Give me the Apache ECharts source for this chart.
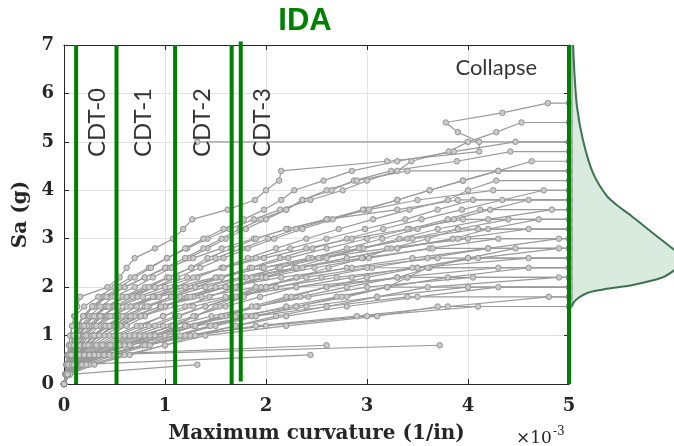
<!DOCTYPE html>
<html>
<head>
<meta charset="utf-8">
<script src="https://cdn.jsdelivr.net/npm/echarts@6/dist/echarts.min.js"></script>
<style>
  html, body { margin: 0; padding: 0; background: #ffffff; }
  #chart { width: 674px; height: 446px; }
</style>
</head>
<body>
<div id="chart"></div>
<script>
// Intensity levels of the incremental dynamic analysis (g)
const saLevels = [0, 0.2, 0.4, 0.6, 0.8, 1.0, 1.2, 1.4, 1.6, 1.8, 2.0, 2.2, 2.4, 2.6, 2.8,
                  3.0, 3.2, 3.4, 3.6, 3.8, 4.0, 4.2, 4.4, 4.6, 4.8, 5.0, 5.2, 5.4, 5.6, 5.8];

// Maximum curvature (x1e-3 1/in) reached by each record at each intensity level
const rec01 = [0, 0.01, 0.02, 0.035, 0.05, 0.065, 0.08, 0.1, 0.13, 0.16, 0.43, 0.55, 0.62, 0.7, 0.9, 1.08, 1.18, 1.27, 1.62, 1.89, 2.0, 2.13, 2.15, 3.2, 4.11, 4.11, 3.9, 3.78, 4.34, 4.79];
const rec02 = [0, 0.012, 0.024, 0.036, 0.048, 0.06, 0.08, 0.11, 0.2, 0.34, 0.5, 0.66, 0.84, 1.02, 1.22, 1.42, 1.64, 1.88, 2.14, 2.44, 2.76, 3.0, 3.3, 3.44, 3.81, 4.0, 4.28, 4.53];
const rec03 = [0, 0.015, 0.03, 0.048, 0.068, 0.09, 0.13, 0.19, 0.28, 0.4, 0.55, 0.7, 0.86, 1.02, 1.2, 1.38, 1.58, 1.78, 1.98, 2.15, 2.28, 2.57, 2.85, 3.3, 3.86, 4.47];
const rec04 = [0, 0.02, 0.04, 0.062, 0.088, 0.12, 0.17, 0.25, 0.36, 0.5, 0.7, 0.88, 1.06, 1.24, 1.42, 1.6, 1.8, 2.0, 2.2, 2.36, 2.65, 2.87, 3.24, 3.89, 4.42];
const rec05 = [0, 0.025, 0.055, 0.09, 0.14, 0.2, 0.28, 0.38, 0.5, 0.68, 0.9, 1.12, 1.35, 1.58, 1.82, 2.08, 2.36, 2.66, 2.98, 3.3, 3.62, 3.95, 4.3, 4.63];
const rec06 = [0, 0.02, 0.045, 0.075, 0.11, 0.15, 0.21, 0.3, 0.42, 0.58, 0.8, 1.02, 1.26, 1.5, 1.76, 2.02, 2.3, 2.62, 2.96, 3.3, 3.62, 3.95, 4.3];
const rec07 = [0, 0.03, 0.07, 0.12, 0.2, 0.3, 0.42, 0.56, 0.72, 0.9, 1.1, 1.32, 1.56, 1.82, 2.1, 2.4, 2.72, 3.06, 3.42, 3.8, 4.0, 4.28];
const rec08 = [0, 0.018, 0.036, 0.055, 0.076, 0.1, 0.14, 0.2, 0.3, 0.43, 0.6, 0.8, 1.02, 1.28, 1.56, 1.88, 2.22, 2.6, 3.02, 3.5, 4.25];
const rec09 = [0, 0.035, 0.08, 0.14, 0.23, 0.35, 0.48, 0.64, 0.84, 1.06, 1.3, 1.56, 1.84, 2.14, 2.46, 2.8, 3.16, 3.54, 3.94, 4.34, 4.75];
const rec10 = [0, 0.024, 0.05, 0.085, 0.13, 0.18, 0.26, 0.37, 0.52, 0.73, 1.0, 1.28, 1.58, 1.9, 2.24, 2.6, 2.98, 3.38, 3.7, 4.05];
const rec11 = [0, 0.04, 0.09, 0.17, 0.29, 0.45, 0.62, 0.8, 1.0, 1.22, 1.5, 1.8, 2.12, 2.45, 2.8, 3.15, 3.5, 3.86, 4.22, 4.6];
const rec12 = [0, 0.03, 0.065, 0.11, 0.17, 0.25, 0.35, 0.48, 0.66, 0.9, 1.2, 1.52, 1.86, 2.22, 2.6, 3.0, 3.42, 3.8, 4.12];
const rec13 = [0, 0.04, 0.1, 0.2, 0.35, 0.55, 0.76, 0.98, 1.2, 1.44, 1.7, 1.98, 2.28, 2.6, 2.95, 3.32, 3.7, 4.2, 4.83];
const rec14 = [0, 0.02, 0.042, 0.068, 0.094, 0.12, 0.18, 0.28, 0.42, 0.62, 0.9, 1.22, 1.58, 1.98, 2.4, 2.85, 3.4, 3.95];
const rec15 = [0, 0.035, 0.075, 0.13, 0.2, 0.3, 0.43, 0.6, 0.8, 1.06, 1.4, 1.76, 2.14, 2.54, 2.96, 3.4, 3.9, 4.4];
const rec16 = [0, 0.045, 0.11, 0.23, 0.42, 0.65, 0.9, 1.14, 1.4, 1.68, 1.9, 1.86, 2.3, 2.8, 3.3, 3.85, 4.2, 4.7];
const rec17 = [0, 0.028, 0.06, 0.1, 0.15, 0.2, 0.3, 0.44, 0.62, 0.88, 1.2, 1.56, 1.96, 2.42, 2.92, 3.45, 4.1];
const rec18 = [0, 0.04, 0.09, 0.16, 0.26, 0.4, 0.56, 0.76, 1.0, 1.28, 1.6, 1.96, 2.36, 2.8, 3.3, 3.9, 4.6];
const rec19 = [0, 0.045, 0.12, 0.26, 0.5, 0.8, 1.06, 1.3, 1.54, 1.78, 2.0, 2.3, 2.62, 2.96, 3.24, 3.6, 3.9];
const rec20 = [0, 0.025, 0.052, 0.085, 0.12, 0.15, 0.23, 0.36, 0.54, 0.78, 1.1, 1.5, 1.98, 2.52, 3.2, 4.0];
const rec21 = [0, 0.035, 0.08, 0.14, 0.23, 0.35, 0.5, 0.7, 0.95, 1.25, 1.6, 2.0, 2.48, 3.02, 3.62, 4.3];
const rec22 = [0, 0.045, 0.11, 0.22, 0.38, 0.6, 0.84, 1.1, 1.4, 1.72, 2.1, 2.55, 3.05, 3.6, 4.2, 4.9];
const rec23 = [0, 0.03, 0.065, 0.11, 0.16, 0.22, 0.32, 0.46, 0.66, 0.94, 1.3, 1.76, 2.3, 2.95, 3.65];
const rec24 = [0, 0.045, 0.12, 0.3, 0.6, 0.9, 1.1, 1.3, 1.5, 1.7, 1.95, 2.3, 2.8, 3.45, 4.2];
const rec25 = [0, 0.045, 0.11, 0.24, 0.44, 0.7, 0.98, 1.28, 1.6, 1.94, 2.3, 2.85, 3.45, 4.1, 4.9];
const rec26 = [0, 0.05, 0.13, 0.3, 0.6, 1.0, 1.3, 1.6, 1.92, 2.25, 2.6, 3.0, 3.5, 4.0, 4.47];
const rec27 = [0, 0.035, 0.075, 0.13, 0.2, 0.28, 0.41, 0.58, 0.82, 1.15, 1.6, 2.15, 2.85, 3.7];
const rec28 = [0, 0.04, 0.1, 0.19, 0.32, 0.5, 0.72, 0.98, 1.28, 1.66, 2.1, 2.7, 3.5, 4.6];
const rec29 = [0, 0.05, 0.12, 0.28, 0.55, 0.9, 1.22, 1.56, 1.92, 2.34, 2.8, 3.3, 3.62, 4.0];
const rec30 = [0, 0.035, 0.08, 0.14, 0.21, 0.3, 0.45, 0.66, 0.96, 1.36, 1.9, 2.4, 3.0];
const rec31 = [0, 0.05, 0.14, 0.34, 0.66, 1.0, 1.28, 1.56, 1.86, 2.2, 2.6, 3.3, 4.3];
const rec32 = [0, 0.05, 0.14, 0.32, 0.65, 1.1, 1.5, 1.9, 2.3, 2.75, 3.2, 3.4, 3.6];
const rec33 = [0, 0.04, 0.085, 0.15, 0.24, 0.35, 0.52, 0.76, 1.1, 1.6, 2.3, 3.4];
const rec34 = [0, 0.045, 0.12, 0.25, 0.46, 0.75, 1.08, 1.46, 1.9, 2.42, 3.0, 4.05];
const rec35 = [0, 0.05, 0.15, 0.38, 0.78, 1.25, 1.7, 2.1, 2.6, 3.1, 3.6, 4.9];
const rec36 = [0, 0.04, 0.12, 0.3, 0.55, 0.85, 1.2, 1.7, 2.3, 2.8, 3.2];
const rec37 = [0, 0.055, 0.17, 0.42, 0.78, 1.1, 1.44, 1.86, 2.4, 3.1, 4.0];
const rec38 = [0, 0.045, 0.14, 0.34, 0.6, 0.9, 1.3, 1.9, 2.6, 3.4];
const rec39 = [0, 0.05, 0.16, 0.4, 0.82, 1.3, 1.9, 2.9, 3.8, 4.8];
const rec40 = [0, 0.045, 0.18, 0.45, 0.8, 1.2, 2.0, 3.0, 4.1];
const rec41 = [0, 0.05, 0.25, 0.6, 1.0, 1.4, 2.2, 3.1, 3.7];
const rec42 = [0, 0.015, 0.03, 0.05, 0.07, 0.095, 0.13, 0.19, 0.28, 0.42, 0.6, 0.8, 1.0, 1.2, 1.38, 1.56, 1.74, 1.95, 2.2, 2.36, 2.6, 2.9, 3.4];
const rec43 = [0, 0.02, 0.045, 0.07, 0.1, 0.14, 0.2, 0.3, 0.44, 0.62, 0.84, 1.04, 1.26, 1.42, 1.66, 1.9, 2.2, 2.6, 3.3, 3.9];
const rec44 = [0, 0.05, 0.22, 0.5, 0.85, 1.15, 1.45, 1.8, 2.2, 2.7, 3.2, 3.8, 4.6];
const rec45 = [0, 0.06, 0.3, 0.65, 1.0, 1.3, 1.7, 2.2, 2.8, 3.5, 4.3];

// Records that stop at low intensity without a collapse flatline
const rec46 = [0, 0.06, 1.32];
const rec47 = [0, 0.04, 0.12, 2.44];
const rec48 = [0, 0.03, 0.08, 0.2, 2.6];
const rec49 = [0, 0.035, 0.1, 0.3, 3.72];

// Last stable point of a record whose lower steps are not shown
const detachedCurvature = [1.32];
const detachedSa = [5.0];

// Collapse is drawn as a flatline out to the curvature cap
const collapseCurvature = 5;

// Curvature damage thresholds (x1e-3 1/in)
const cdtLimits = [0.12, 0.52, 1.10, 1.66];
const cdtNames = ['CDT-0', 'CDT-1', 'CDT-2', 'CDT-3'];
const cdt3Second = [1.75];
const cdt3SecondSpan = [0.05, 7.07];

// Fitted density of the collapse intensity (Sa in g, pdf)
const collapseSa  = [1.6, 1.68, 1.78, 1.89, 1.96, 2.04, 2.2, 2.33, 2.45, 2.55, 2.65, 2.79, 2.92, 3.13, 3.47, 3.66, 3.88, 4.36, 5.04, 5.72, 6.4, 7.0];
const collapsePdf = [0.0, 0.008, 0.034, 0.086, 0.172, 0.31, 0.47, 0.526, 0.552, 0.562, 0.557, 0.526, 0.484, 0.417, 0.31, 0.245, 0.182, 0.109, 0.057, 0.026, 0.013, 0.006];

const collapsedRecords = [rec01, rec02, rec03, rec04, rec05, rec06, rec07, rec08, rec09, rec10,
  rec11, rec12, rec13, rec14, rec15, rec16, rec17, rec18, rec19, rec20,
  rec21, rec22, rec23, rec24, rec25, rec26, rec27, rec28, rec29, rec30,
  rec31, rec32, rec33, rec34, rec35, rec36, rec37, rec38, rec39, rec40,
  rec41, rec42, rec43, rec44, rec45];
const stoppedRecords = [rec46, rec47, rec48, rec49];

const SA_MIN = 0, SA_MAX = 7, K_MIN = 0, K_MAX = 5;
const GREEN = '#008000';
const INK = '#262626';

const idaLine = { color: '#9a9a9a', width: 1.2 };
const idaMarker = { color: '#cbcbcb', borderColor: '#939393', borderWidth: 1 };

function idaSeries(points) {
  return {
    type: 'line', xAxisIndex: 0, yAxisIndex: 0, data: points,
    symbol: 'circle', symbolSize: 5.5, showSymbol: true,
    lineStyle: idaLine, itemStyle: idaMarker, z: 2, silent: true, animation: false
  };
}

const series = [];
collapsedRecords.forEach(rec => {
  const pts = rec.map((k, i) => [k, saLevels[i]]);
  pts.push([collapseCurvature, saLevels[rec.length - 1]]);
  series.push(idaSeries(pts));
});
stoppedRecords.forEach(rec => {
  series.push(idaSeries(rec.map((k, i) => [k, saLevels[i]])));
});
detachedCurvature.forEach((k, i) => {
  series.push(idaSeries([[k, detachedSa[i]], [collapseCurvature, detachedSa[i]]]));
});

// Damage threshold lines and the collapse cap
function greenLine(points, clip) {
  return {
    type: 'line', xAxisIndex: 0, yAxisIndex: 0, data: points, symbol: 'none',
    lineStyle: { color: GREEN, width: 4, cap: 'butt' }, z: 5, silent: true,
    clip: clip, animation: false
  };
}
cdtLimits.forEach(k => series.push(greenLine([[k, SA_MIN], [k, SA_MAX]], true)));
cdt3Second.forEach(k => series.push(greenLine([[k, cdt3SecondSpan[0]], [k, cdt3SecondSpan[1]]], false)));
series.push(greenLine([[collapseCurvature, SA_MIN], [collapseCurvature, SA_MAX]], false));

// Rotated threshold names and the collapse tag
const cdtLabelAnchors = [[0.33, 5.4], [0.78, 5.4], [1.37, 5.4], [1.96, 5.4]];
series.push({
  type: 'scatter', xAxisIndex: 0, yAxisIndex: 0, symbolSize: 0, silent: true, z: 7,
  data: cdtNames.map((n, i) => ({ value: cdtLabelAnchors[i], name: n })),
  label: {
    show: true, position: 'inside', rotate: 90, formatter: p => p.name,
    fontFamily: 'Lato', fontSize: 24, color: '#000000'
  },
  animation: false
});
series.push({
  type: 'scatter', xAxisIndex: 0, yAxisIndex: 0, symbolSize: 0, silent: true, z: 7,
  data: [{ value: [4.28, 6.53], name: 'Collapse' }],
  label: {
    show: true, position: 'inside', formatter: p => p.name,
    fontFamily: 'Lato', fontSize: 22, color: '#000000'
  },
  animation: false
});

// Collapse density drawn sideways against the Sa axis
series.push({
  type: 'custom', xAxisIndex: 2, yAxisIndex: 2, data: [[0, 0]], silent: true, z: 3,
  clip: false, animation: false,
  renderItem(params, api) {
    const curve = collapseSa.map((s, i) => api.coord([collapsePdf[i], s]));
    const top = api.coord([0, collapseSa[collapseSa.length - 1]]);
    const bottom = api.coord([0, collapseSa[0]]);
    return {
      type: 'group',
      children: [
        { type: 'polygon', shape: { points: [bottom].concat(curve, [top]) },
          style: { fill: '#d8ebde', stroke: null } },
        { type: 'line', shape: { x1: top[0], y1: top[1], x2: bottom[0], y2: bottom[1] },
          style: { stroke: '#9a9a9a', lineWidth: 1.5 } },
        { type: 'polyline', shape: { points: curve, smooth: 0.25 },
          style: { stroke: '#3e7351', lineWidth: 2, fill: null } }
      ]
    };
  }
});

const tickFont = { fontFamily: 'DejaVu Serif', fontWeight: 'bold', fontSize: 18, color: INK };
const nameFont = { fontFamily: 'DejaVu Serif', fontWeight: 'bold', fontSize: 20, color: INK };
const frameLine = { show: true, onZero: false, lineStyle: { color: INK, width: 1 } };
const innerTick = { show: true, inside: true, length: 5, lineStyle: { color: INK, width: 1 } };
const gridLine = { show: true, lineStyle: { color: '#e3e3e3', width: 1 } };

const option = {
  animation: false,
  backgroundColor: '#ffffff',
  grid: [
    { left: 64, right: 105, top: 45, bottom: 62, outerBoundsMode: 'none' },
    { left: 572, width: 192, top: 45, bottom: 62, outerBoundsMode: 'none' }
  ],
  xAxis: [
    { gridIndex: 0, type: 'value', min: K_MIN, max: K_MAX, interval: 1, position: 'bottom',
      axisLine: frameLine, axisTick: innerTick, splitLine: gridLine,
      axisLabel: Object.assign({ margin: 13 }, tickFont),
      name: 'Maximum curvature (1/in)', nameLocation: 'middle', nameGap: 40, nameTextStyle: nameFont },
    { gridIndex: 0, type: 'value', min: K_MIN, max: K_MAX, interval: 1, position: 'top',
      axisLine: frameLine, axisTick: innerTick, splitLine: { show: false }, axisLabel: { show: false } },
    { gridIndex: 1, type: 'value', min: 0, max: 1, show: false }
  ],
  yAxis: [
    { gridIndex: 0, type: 'value', min: SA_MIN, max: SA_MAX, interval: 1, position: 'left',
      axisLine: frameLine, axisTick: innerTick, splitLine: gridLine,
      axisLabel: Object.assign({ margin: 10 }, tickFont),
      name: 'Sa (g)', nameLocation: 'middle', nameGap: 27, nameRotate: 90, nameTextStyle: nameFont },
    { gridIndex: 0, type: 'value', min: SA_MIN, max: SA_MAX, interval: 1, position: 'right',
      axisLine: frameLine, axisTick: innerTick, splitLine: { show: false }, axisLabel: { show: false } },
    { gridIndex: 1, type: 'value', min: SA_MIN, max: SA_MAX, show: false }
  ],
  graphic: [
    { type: 'text', x: 305, y: 21, z: 10,
      style: { text: 'IDA', font: 'bold 31px "Liberation Sans"', fill: GREEN, align: 'center', verticalAlign: 'middle' } },
    { type: 'text', x: 516, y: 447, z: 10,
      style: { text: '×10', font: '17px "DejaVu Serif"', fill: INK, align: 'left', verticalAlign: 'bottom' } },
    { type: 'text', x: 553, y: 438, z: 10,
      style: { text: '-3', font: '12px "DejaVu Serif"', fill: INK, align: 'left', verticalAlign: 'bottom' } }
  ],
  series: series
};

const chart = echarts.init(document.getElementById('chart'), null, { renderer: 'canvas' });
chart.setOption(option);
</script>
</body>
</html>
